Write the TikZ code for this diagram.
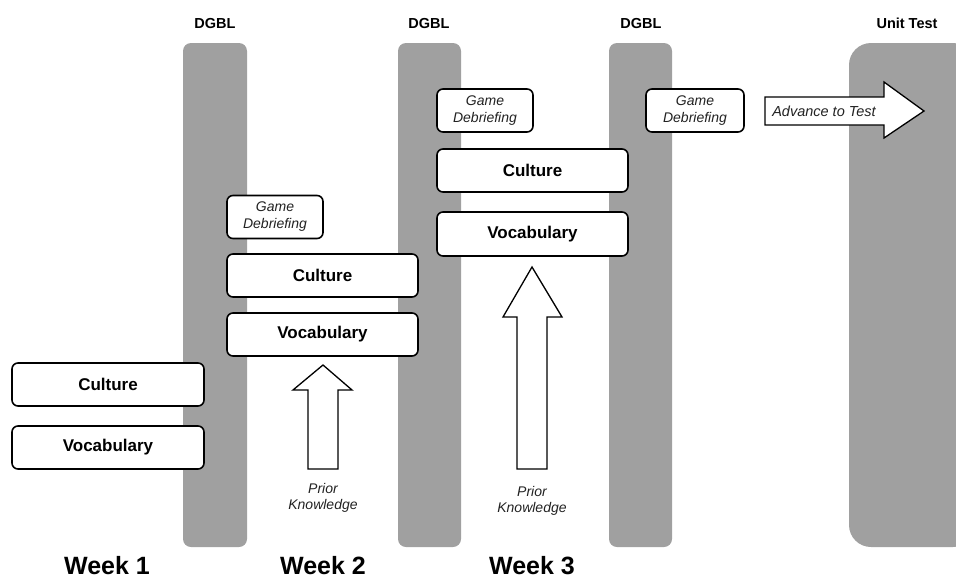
\documentclass[tikz,border=0pt]{standalone}
\usepackage{fontspec}
\setmainfont{Liberation Sans}
\definecolor{barfill}{HTML}{A0A0A0}
\definecolor{itext}{HTML}{222222}
\tikzset{
  bar/.style={fill=barfill},
  boxnode/.style={draw=black, line width=1.6pt, rounded corners=6pt, fill=white, inner sep=0pt, align=center},
  topicbox/.style={boxnode, minimum width=191pt, minimum height=43pt, font=\fontsize{17}{20}\selectfont\bfseries},
  gamebox/.style={boxnode, minimum width=96pt, minimum height=43pt, text=itext, font=\fontsize{14}{17}\selectfont\itshape},
  header/.style={anchor=base, font=\fontsize{14.5}{17}\selectfont\bfseries},
  weeklabel/.style={anchor=base, inner sep=0pt, font=\fontsize{25}{28}\selectfont\bfseries},
  itlabel/.style={align=center, text=itext, font=\fontsize{14}{16}\selectfont\itshape, inner sep=0pt},
  blockarrow/.style={draw=black, line width=1.3pt, fill=white, line join=miter}
}
\begin{document}
\begin{tikzpicture}[x=1pt,y=-1pt]
\useasboundingbox (0,0) rectangle (956,579);
\begin{scope}
\clip (0,0) rectangle (956,579);
% grey bars
\fill[bar, rounded corners=8pt] (183,43) rectangle (247,547);
\fill[bar, rounded corners=8pt] (398,43) rectangle (461,547);
\fill[bar, rounded corners=8pt] (609,43) rectangle (672,547);
\fill[bar, rounded corners=22pt] (849,43) rectangle (975,547);
\end{scope}
% headers
\node[header] (h1) at (215,28) {DGBL};
\node[header] (h2) at (429,28) {DGBL};
\node[header] (h3) at (641,28) {DGBL};
\node[header] (h4) at (907,28) {Unit Test};
% week 1
\node[topicbox, minimum width=192pt] (c1) at (108,384.5) {Culture};
\node[topicbox, minimum width=192pt] (v1) at (108,447.5) {Vocabulary};
% week 2
\node[gamebox] (g2) at (275,217) {Game\\Debriefing};
\node[topicbox] (c2) at (322.5,275.5) {Culture};
\node[topicbox] (v2) at (322.5,334.5) {Vocabulary};
% week 3
\node[gamebox] (g3) at (485,110.5) {Game\\Debriefing};
\node[topicbox] (c3) at (532.5,170.5) {Culture};
\node[topicbox, minimum height=44pt] (v3) at (532.5,234) {Vocabulary};
% after week 3
\node[gamebox, minimum width=98pt] (g4) at (695,110.5) {Game\\Debriefing};
% up arrows
\draw[blockarrow] (308,469) -- (308,390) -- (293,390) -- (323,365) -- (352,390) -- (338,390) -- (338,469) -- cycle;
\draw[blockarrow] (517,469) -- (517,317) -- (503,317) -- (532,267) -- (562,317) -- (547,317) -- (547,469) -- cycle;
\node[itlabel] (pk2) at (323,498) {Prior\\Knowledge};
\node[itlabel] (pk3) at (532,501) {Prior\\Knowledge};
% advance arrow
\draw[blockarrow] (765,97) -- (884,97) -- (884,82) -- (924,111) -- (884,138) -- (884,125) -- (765,125) -- cycle;
\node[itlabel, font=\fontsize{14.5}{16}\selectfont\itshape] (adv) at (824,111) {Advance to Test};
% week labels
\node[weeklabel] (w1) at (107,574) {Week 1};
\node[weeklabel] (w2) at (323,574) {Week 2};
\node[weeklabel] (w3) at (532,574) {Week 3};
\end{tikzpicture}
\end{document}
